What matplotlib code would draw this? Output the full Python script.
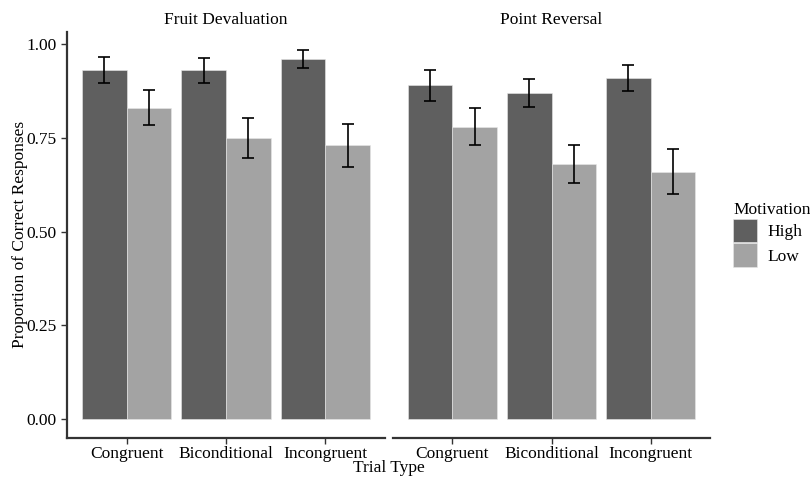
import numpy as np
import matplotlib.pyplot as plt

plt.rcParams['font.family'] = ['Liberation Serif', 'DejaVu Serif']

trial_types = ["Congruent", "Biconditional", "Incongruent"]
panels = ["Fruit Devaluation", "Point Reversal"]
levels = ["High", "Low"]

# proportion correct, per panel
fruit_high = [0.93, 0.93, 0.96]
fruit_low = [0.83, 0.75, 0.73]
point_high = [0.89, 0.87, 0.91]
point_low = [0.78, 0.68, 0.66]

# error bar half-widths
fruit_high_err = [0.035, 0.033, 0.024]
fruit_low_err = [0.047, 0.054, 0.058]
point_high_err = [0.041, 0.037, 0.035]
point_low_err = [0.050, 0.050, 0.061]

colors = {"High": "#5f5f5f", "Low": "#a3a3a3"}

fig = plt.figure(figsize=(8.1, 4.78), dpi=100)
W, H = 810, 478


def make_ax(x0, x1, y0=32, y1=437.5):
    return fig.add_axes([x0 / W, 1 - y1 / H, (x1 - x0) / W, (y1 - y0) / H])


ax_left = make_ax(67, 385)
ax_right = make_ax(393, 710)

data = [
    (ax_left, fruit_high, fruit_low, fruit_high_err, fruit_low_err),
    (ax_right, point_high, point_low, point_high_err, point_low_err),
]

x = np.arange(len(trial_types))
w = 0.45
for i, (ax, hi, lo, hi_e, lo_e) in enumerate(data):
    ax.bar(x - w / 2, hi, width=w, color=colors["High"], edgecolor="#e8e8e8",
           linewidth=0.4, label="High")
    ax.bar(x + w / 2, lo, width=w, color=colors["Low"], edgecolor="#e8e8e8",
           linewidth=0.4, label="Low")
    ax.errorbar(x - w / 2, hi, yerr=hi_e, fmt="none", ecolor="black",
                elinewidth=1.2, capsize=4, capthick=1.2)
    ax.errorbar(x + w / 2, lo, yerr=lo_e, fmt="none", ecolor="black",
                elinewidth=1.2, capsize=4, capthick=1.2)
    ax.set_xlim(-0.6, 2.6)
    ax.set_ylim(-0.049, 1.032)
    ax.set_xticks(x)
    ax.set_xticklabels(trial_types, fontsize=12.5, color="black")
    ax.set_title(panels[i], fontsize=12.5, pad=6)
    for s in ["top", "right"]:
        ax.spines[s].set_visible(False)
    ax.spines["bottom"].set_color("#333333")
    ax.spines["bottom"].set_linewidth(1.6)
    ax.tick_params(axis="x", length=4, width=1, color="#333333", pad=2)
    ax.tick_params(axis="y", length=4, width=1, color="#333333", labelsize=12.5)

ax_left.spines["left"].set_color("#333333")
ax_left.spines["left"].set_linewidth(1.6)
ax_left.set_yticks([0, 0.25, 0.5, 0.75, 1.0])
ax_left.set_yticklabels(["0.00", "0.25", "0.50", "0.75", "1.00"])
ax_left.set_ylabel("Proportion of Correct Responses", fontsize=12.5, labelpad=-1)

ax_right.spines["left"].set_visible(False)
ax_right.set_yticks([])

fig.text(389 / W, 1 - 468 / H, "Trial Type", ha="center", va="center", fontsize=12.5)

handles, labels = ax_left.get_legend_handles_labels()
fig.legend(handles, labels, title="Motivation", loc="upper left",
           bbox_to_anchor=(733 / W, 1 - 202 / H), frameon=False,
           borderpad=0, borderaxespad=0,
           fontsize=12.5, title_fontsize=12.5, handlelength=1.4, handleheight=1.7,
           handletextpad=0.6, labelspacing=0.05, alignment="left")

fig.savefig("out.png", dpi=100)
